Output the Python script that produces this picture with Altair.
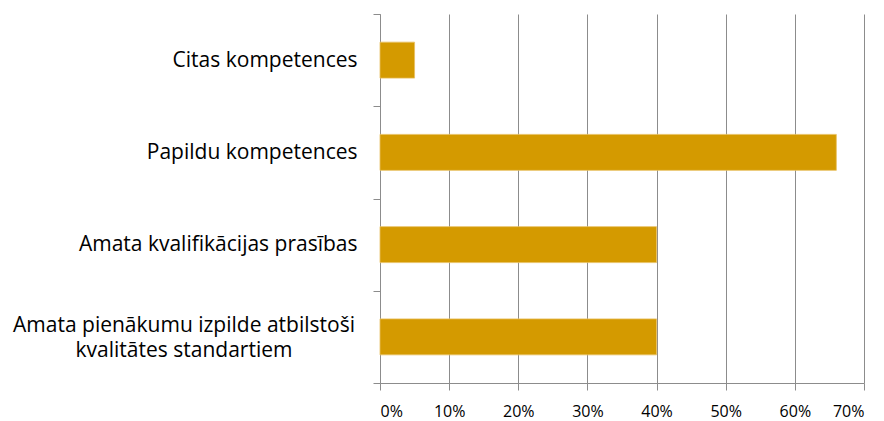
import altair as alt
import pandas as pd

categories = [
    "Citas kompetences",
    "Papildu kompetences",
    "Amata kvalifikācijas prasības",
    "Amata pienākumu izpilde atbilstoši|kvalitātes standartiem",
]
values = [0.05, 0.66, 0.40, 0.40]

df = pd.DataFrame({"cat": categories, "val": values})

font = "Open Sans"

y_enc = alt.Y(
    "cat:N",
    sort=categories,
    scale=alt.Scale(paddingInner=0, paddingOuter=0),
    axis=alt.Axis(
        title=None, tickBand="extent", tickSize=7, tickColor="#8C8C8C",
        domainColor="#8C8C8C", labelFont=font, labelFontSize=21, labelColor="#000000",
        labelPadding=16, labelLimit=400,
        labelExpr="indexof(datum.label, '|') >= 0 ? '' : datum.label",
    ),
)

bars = alt.Chart(df).mark_bar(
    color="#D49A00", stroke="#E8C062", strokeWidth=0.8,
    height=alt.RelativeBandSize(0.39),
).encode(
    x=alt.X(
        "val:Q",
        scale=alt.Scale(domain=[0, 0.7], nice=False),
        axis=alt.Axis(
            format="%", values=[0, 0.1, 0.2, 0.3, 0.4, 0.5, 0.6, 0.7], title=None,
            grid=True, gridColor="#8C8C8C", gridWidth=1,
            domainColor="#8C8C8C", tickColor="#8C8C8C", tickSize=7,
            labelFont=font, labelFontSize=16, labelColor="#000000", labelPadding=13,
        ),
    ),
    y=y_enc,
)

wrapped = alt.Chart(df).transform_filter(
    "indexof(datum.cat, '|') >= 0"
).mark_text(
    align="center", baseline="alphabetic", lineBreak="|", lineHeight=25,
    font=font, fontSize=21, color="#000000", dy=-5,
).encode(
    x=alt.value(-196),
    y=alt.Y("cat:N", sort=categories),
    text="cat:N",
)

chart = alt.layer(bars, wrapped).properties(
    width=484, height=369,
    autosize=alt.AutoSizeParams(type="none"),
    padding={"left": 380, "top": 14, "right": 20, "bottom": 38},
).configure_view(stroke=None)

chart.save("out.html", embed_options={"renderer": "svg", "actions": False})
